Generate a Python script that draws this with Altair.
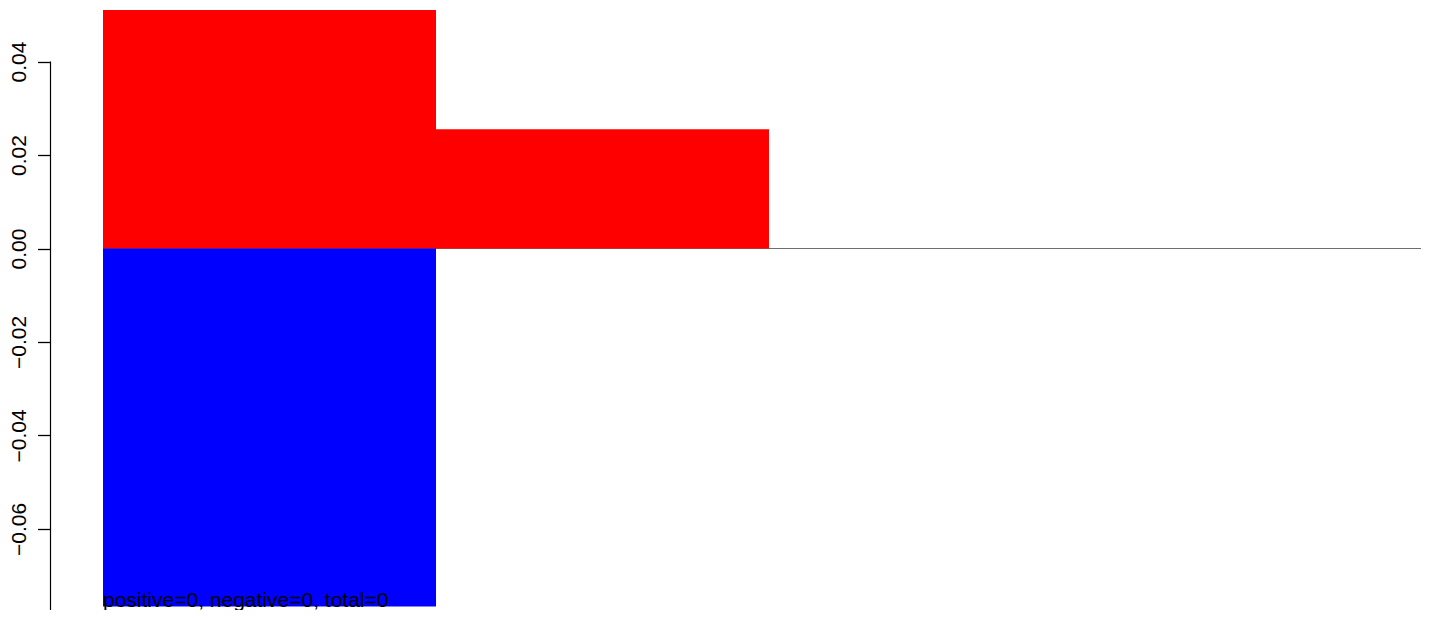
import altair as alt
import pandas as pd

# Bars (R barplot style, space=0): each bar spans [start, end]
bar_start = [0, 1, 2, 3]
bar_end = [1, 2, 3, 4]
positive = [0.060, 0.0255, 0.0, 0.0]
negative = [-0.0766, 0.0, 0.0, 0.0]
y_ticks = [0.04, 0.02, 0.00, -0.02, -0.04, -0.06, -0.08]
note = "positive=0, negative=0, total=0"

pos_df = pd.DataFrame({"x0": bar_start, "x1": bar_end, "v": positive})
neg_df = pd.DataFrame({"x0": bar_start, "x1": bar_end, "v": negative})
zero_df = pd.DataFrame({"x0": [bar_start[0]], "x1": [bar_end[-1]], "v": [0.0]})
axis_df = pd.DataFrame({"top": [y_ticks[0]]})
note_df = pd.DataFrame({"x": [bar_start[0]], "y": [min(negative)], "t": [note]})

FONT = "Liberation Sans"
W, H = 1371, 600
xs = alt.Scale(domain=[-53 / 333, (W - 53) / 333], nice=False, zero=False)
ys = alt.Scale(domain=[-0.07733, 0.05102], nice=False, zero=False)
y_axis = alt.Axis(
    title=None, values=y_ticks, format=".2f", domain=False, grid=False,
    tickSize=12.5, tickColor="black", tickWidth=1.3,
    labelAngle=270, labelAlign="center", labelBaseline="alphabetic",
    labelPadding=12.5, labelFont=FONT, labelFontSize=21, labelColor="black",
)

zero_line = alt.Chart(zero_df).mark_rule(color="#6e6e6e", strokeWidth=1.2).encode(
    x=alt.X("x0:Q", scale=xs, axis=None),
    x2="x1:Q",
    y=alt.Y("v:Q", scale=ys, axis=y_axis),
)

pos_bars = alt.Chart(pos_df).mark_rect(color="#FF0000", clip=True).encode(
    x=alt.X("x0:Q", scale=xs, axis=None),
    x2="x1:Q",
    y=alt.Y("v:Q", scale=ys, axis=y_axis),
    y2=alt.datum(0),
)

neg_bars = alt.Chart(neg_df).mark_rect(color="#0000FF", clip=True).encode(
    x=alt.X("x0:Q", scale=xs, axis=None),
    x2="x1:Q",
    y=alt.Y("v:Q", scale=ys, axis=y_axis),
    y2=alt.datum(0),
)

axis_line = alt.Chart(axis_df).mark_rule(color="black", strokeWidth=1.2).encode(
    x=alt.value(0.5),
    y=alt.Y("top:Q", scale=ys, axis=y_axis),
    y2=alt.value(H),
)

note_text = alt.Chart(note_df).mark_text(
    align="left", baseline="alphabetic", font=FONT, fontSize=21, color="black"
).encode(
    x=alt.X("x:Q", scale=xs, axis=None),
    y=alt.Y("y:Q", scale=ys, axis=y_axis),
    text="t:N",
)

chart = (
    alt.layer(zero_line, pos_bars, neg_bars, axis_line, note_text)
    .properties(
        width=W, height=H,
        autosize=alt.AutoSizeParams(type="none"),
        padding={"left": 42, "top": 2, "right": 0, "bottom": 0},
        background="white",
    )
    .configure_view(strokeWidth=0)
)

chart.save("out.html", embed_options={"renderer": "svg", "actions": False})
